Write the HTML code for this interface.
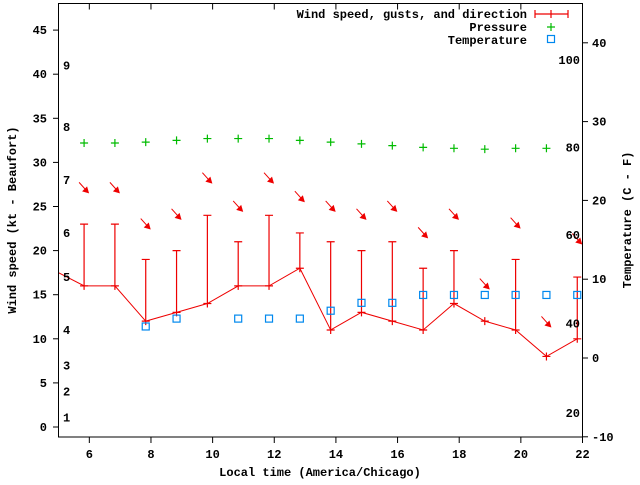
<!DOCTYPE html>
<html><head><meta charset="utf-8"><style>
html,body{margin:0;padding:0;background:#fff}
svg text{font-family:"Liberation Mono","DejaVu Sans Mono",monospace;font-size:12px;font-weight:bold;fill:#000}
</style></head><body>
<svg id="chart" width="640" height="480" xmlns="http://www.w3.org/2000/svg">
<rect width="640" height="480" fill="#fff"/>
<g id="marks"></g>
<rect x="58.5" y="3.5" width="524" height="433.5" fill="none" stroke="#000" stroke-width="1"/>
<g id="axes"></g>
<text x="320" y="476" text-anchor="middle">Local time (America/Chicago)</text>
<text transform="translate(16,220) rotate(-90)" text-anchor="middle">Wind speed (kt - Beaufort)</text>
<text transform="translate(631,220) rotate(-90)" text-anchor="middle">Temperature (C - F)</text>
<g>
<text x="527" y="18" text-anchor="end">Wind speed, gusts, and direction</text>
<path d="M535 14H568M535 10V18M551 10V18M568 10V18" stroke="#e00" stroke-width="1.2" fill="none"/>
<text x="527" y="31" text-anchor="end">Pressure</text>
<path d="M547 27h8M551 23v8" stroke="#0b0" stroke-width="1.2"/>
<text x="527" y="44" text-anchor="end">Temperature</text>
<rect x="547.5" y="35.5" width="7" height="7" fill="none" stroke="#08e" stroke-width="1.2"/>
</g>
</svg>
<script>
const hours=[5,6,7,8,9,10,11,12,13,14,15,16,17,18,19,20,21,22];
const windSpeed=[17.5,16,16,12,13,14,16,16,18,11,13,12,11,14,12,11,8,10];
const gusts=[null,23,23,19,20,24,21,24,22,21,20,21,18,20,null,19,null,17];
const arrowY=[null,26.6,26.6,22.5,23.6,27.7,24.5,27.7,25.6,24.5,23.6,24.5,21.5,23.6,15.7,22.6,11.4,20.8];
const pressure=[null,32.2,32.2,32.3,32.5,32.7,32.7,32.7,32.5,32.3,32.1,31.9,31.7,31.6,31.5,31.6,31.6,null];
const tempC=[null,null,null,4,5,null,5,5,5,6,7,7,8,8,8,8,8,8];
const xTicks=[6,8,10,12,14,16,18,20,22];
const yTicks=[0,5,10,15,20,25,30,35,40,45];
const y2Ticks=[-10,0,10,20,30,40];
const beaufort=[[1,1.1],[2,4],[3,7],[4,11],[5,17],[6,22],[7,28],[8,34],[9,41]];
const fahr=[[20,-7],[40,4.4],[60,15.6],[80,26.7],[100,37.8]];
const timeOffset=-0.17;
const NS="http://www.w3.org/2000/svg";
const X=h=>58.5+(h-5)*(524/17);
const Y=v=>427-v*8.82;
const Y2=t=>358-t*7.88;
const marks=document.getElementById('marks'),axes=document.getElementById('axes');
function mk(tag,at,par){const e=document.createElementNS(NS,tag);for(const k in at)e.setAttribute(k,at[k]);(par||marks).appendChild(e);return e;}
// axes
xTicks.forEach(t=>{const x=X(t);
 const l=mk('path',{d:`M${x} 437V443M${x} 3.5V9.5`,stroke:'#000'},axes);
 
 
 const tx=mk('text',{x:x,y:458,'text-anchor':'middle'},axes);tx.textContent=t;
 
 });
yTicks.forEach(t=>{const y=Y(t);
 mk('path',{d:`M53 ${y}H58.5`,stroke:'#000'},axes);
 const tx=mk('text',{x:47,y:y+4,'text-anchor':'end'},axes);tx.textContent=t;
 
 });
y2Ticks.forEach(t=>{const y=Y2(t);
 mk('path',{d:`M582.5 ${y}H588`,stroke:'#000'},axes);
 const tx=mk('text',{x:592,y:y+4},axes);tx.textContent=t;
 
 });
beaufort.forEach(b=>{const tx=mk('text',{x:63,y:Y(b[1])+4},axes);tx.textContent=b[0];
 
 });
fahr.forEach(f=>{const tx=mk('text',{x:580,y:Y2(f[1])+4,'text-anchor':'end'},axes);tx.textContent=f[0];
 
 });
// pressure
pressure.forEach((p,i)=>{if(p==null)return;const x=X(hours[i]+timeOffset),y=Y(p);
 const e=mk('path',{d:`M${x-4} ${y}h8M${x} ${y-4}v8`,stroke:'#0b0','stroke-width':1.2});
 
 });
// wind line
let d='';hours.forEach((h,i)=>{const x=i==0?58.5:X(h+timeOffset);d+=(i?'L':'M')+x+' '+Y(windSpeed[i]);});
const ln=mk('path',{d:d,stroke:'#e00',fill:'none','stroke-width':1});


hours.forEach((h,i)=>{if(i==0)return;const x=X(h+timeOffset),y=Y(windSpeed[i]);
 let s=`M${x-4} ${y}h8M${x} ${y-4}v8`;
 if(gusts[i]!=null){const g=Y(gusts[i]);s+=`M${x} ${y}V${g}M${x-4} ${g}h8`;}
 const e=mk('path',{d:s,stroke:'#e00','stroke-width':1.2,fill:'none'});
 
 });
// arrows
hours.forEach((h,i)=>{if(arrowY[i]==null)return;const x=X(h+timeOffset)+4,y=Y(arrowY[i]);
 const g=mk('g',{});
 
 
 mk('path',{d:`M${x-9} ${y-10}L${x} ${y}`,stroke:'#e00','stroke-width':1},g);
 mk('path',{d:`M${x+1} ${y+1}L${x-6} ${y-1}L${x-1} ${y-6}Z`,fill:'#e00'},g);});
// temperature
tempC.forEach((t,i)=>{if(t==null)return;const x=X(hours[i]+timeOffset),y=Y2(t);
 const e=mk('rect',{x:x-3.5,y:y-3.5,width:7,height:7,fill:'none',stroke:'#08e','stroke-width':1.2});
 
 });
</script>
</body></html>
